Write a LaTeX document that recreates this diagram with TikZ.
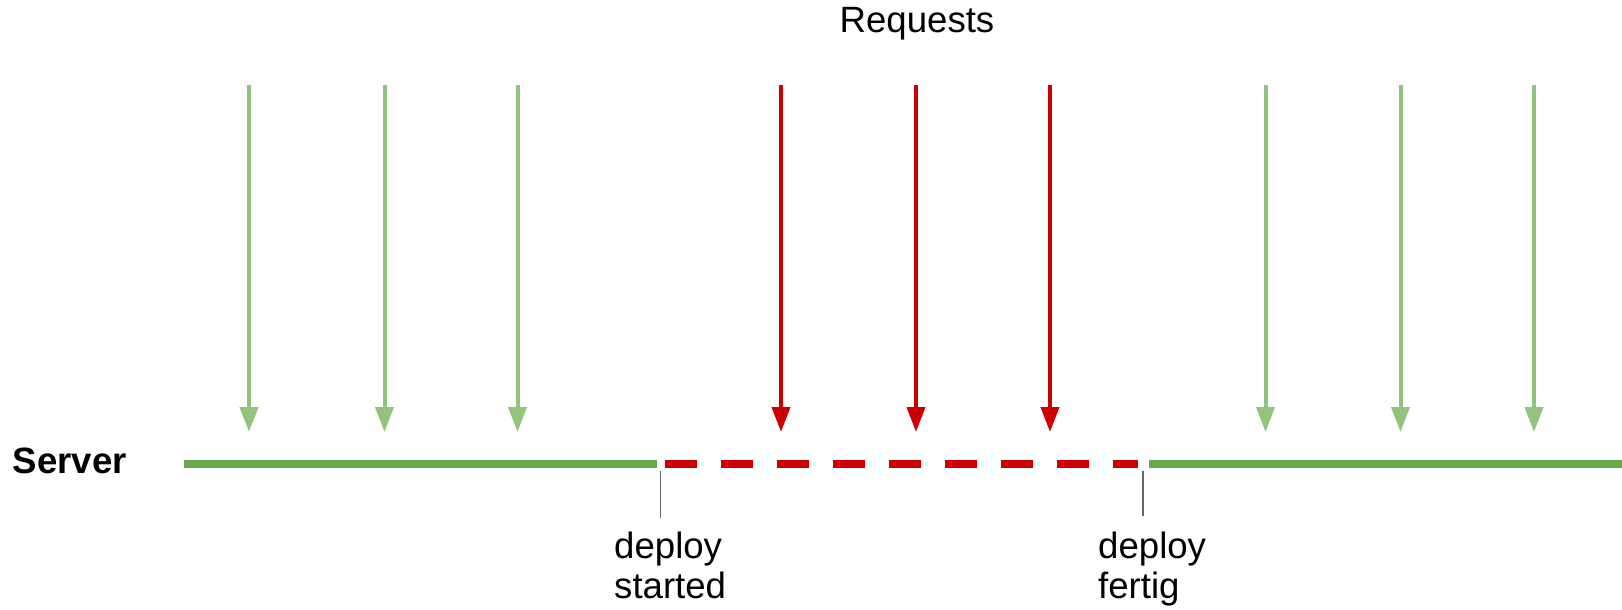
\documentclass[tikz,border=0pt]{standalone}
\usepackage{fontspec}
\setmainfont{Liberation Sans}
\usepackage{tikz}
\usetikzlibrary{arrows.meta}

\definecolor{upgreen}{HTML}{6AA84F}
\definecolor{reqgreen}{HTML}{93C47D}
\definecolor{downred}{HTML}{CC0000}
\definecolor{tickgray}{HTML}{666666}

\tikzset{
  okreq/.style={reqgreen, line width=4pt, -{Triangle[length=25pt, width=18pt]}},
  failreq/.style={downred, line width=4pt, -{Triangle[length=25pt, width=18pt]}},
  uptime/.style={upgreen, line width=8pt},
  downtime/.style={downred, line width=8pt, dash pattern=on 32pt off 24pt},
  marker/.style={tickgray, line width=1.4pt},
  txt/.style={inner sep=0pt, anchor=base west, font=\fontsize{36.6}{42}\selectfont},
}

\begin{document}
\begin{tikzpicture}[x=1pt, y=-1pt]
    \useasboundingbox (0, 0) rectangle (1622, 610);

    \node[txt, anchor=base] (req) at (917, 33) {Requests};
    \node[txt, font=\fontsize{36.6}{42}\selectfont\bfseries] (server) at (12.5, 473) {Server};

    % request arrows
    \coordinate (g1a) at (249, 85);    \coordinate (g1b) at (249, 432);
    \coordinate (g2a) at (384.5, 85);  \coordinate (g2b) at (384.5, 432);
    \coordinate (g3a) at (517.5, 85);  \coordinate (g3b) at (517.5, 432);
    \coordinate (r1a) at (781, 85);    \coordinate (r1b) at (781, 432);
    \coordinate (r2a) at (916, 85);    \coordinate (r2b) at (916, 432);
    \coordinate (r3a) at (1050, 85);   \coordinate (r3b) at (1050, 432);
    \coordinate (g4a) at (1265.5, 85); \coordinate (g4b) at (1265.5, 432);
    \coordinate (g5a) at (1400.5, 85); \coordinate (g5b) at (1400.5, 432);
    \coordinate (g6a) at (1534, 85);   \coordinate (g6b) at (1534, 432);

    \draw[okreq] (g1a) -- (g1b);
    \draw[okreq] (g2a) -- (g2b);
    \draw[okreq] (g3a) -- (g3b);
    \draw[failreq] (r1a) -- (r1b);
    \draw[failreq] (r2a) -- (r2b);
    \draw[failreq] (r3a) -- (r3b);
    \draw[okreq] (g4a) -- (g4b);
    \draw[okreq] (g5a) -- (g5b);
    \draw[okreq] (g6a) -- (g6b);

    % server timeline
    \coordinate (up1a) at (184, 464);
    \coordinate (up1b) at (656.7, 464);
    \coordinate (down1a) at (665, 464);
    \coordinate (down1b) at (1137.5, 464);
    \coordinate (up2a) at (1149, 464);
    \coordinate (up2b) at (1622, 464);

    \draw[uptime] (up1a) -- (up1b);
    \draw[downtime] (down1a) -- (down1b);
    \draw[uptime] (up2a) -- (up2b);

    % deploy markers
    \coordinate (start1) at (660.7, 470.7);
    \coordinate (start2) at (660.7, 518);
    \coordinate (done1) at (1143, 470.7);
    \coordinate (done2) at (1143, 516);

    \draw[marker] (start1) -- (start2);
    \draw[marker] (done1) -- (done2);

    \node[txt] (started1) at (614, 558) {deploy};
    \node[txt] (started2) at (614, 598) {started};
    \node[txt] (done1txt) at (1098, 558) {deploy};
    \node[txt] (done2txt) at (1098, 598) {fertig};
\end{tikzpicture}
\end{document}
